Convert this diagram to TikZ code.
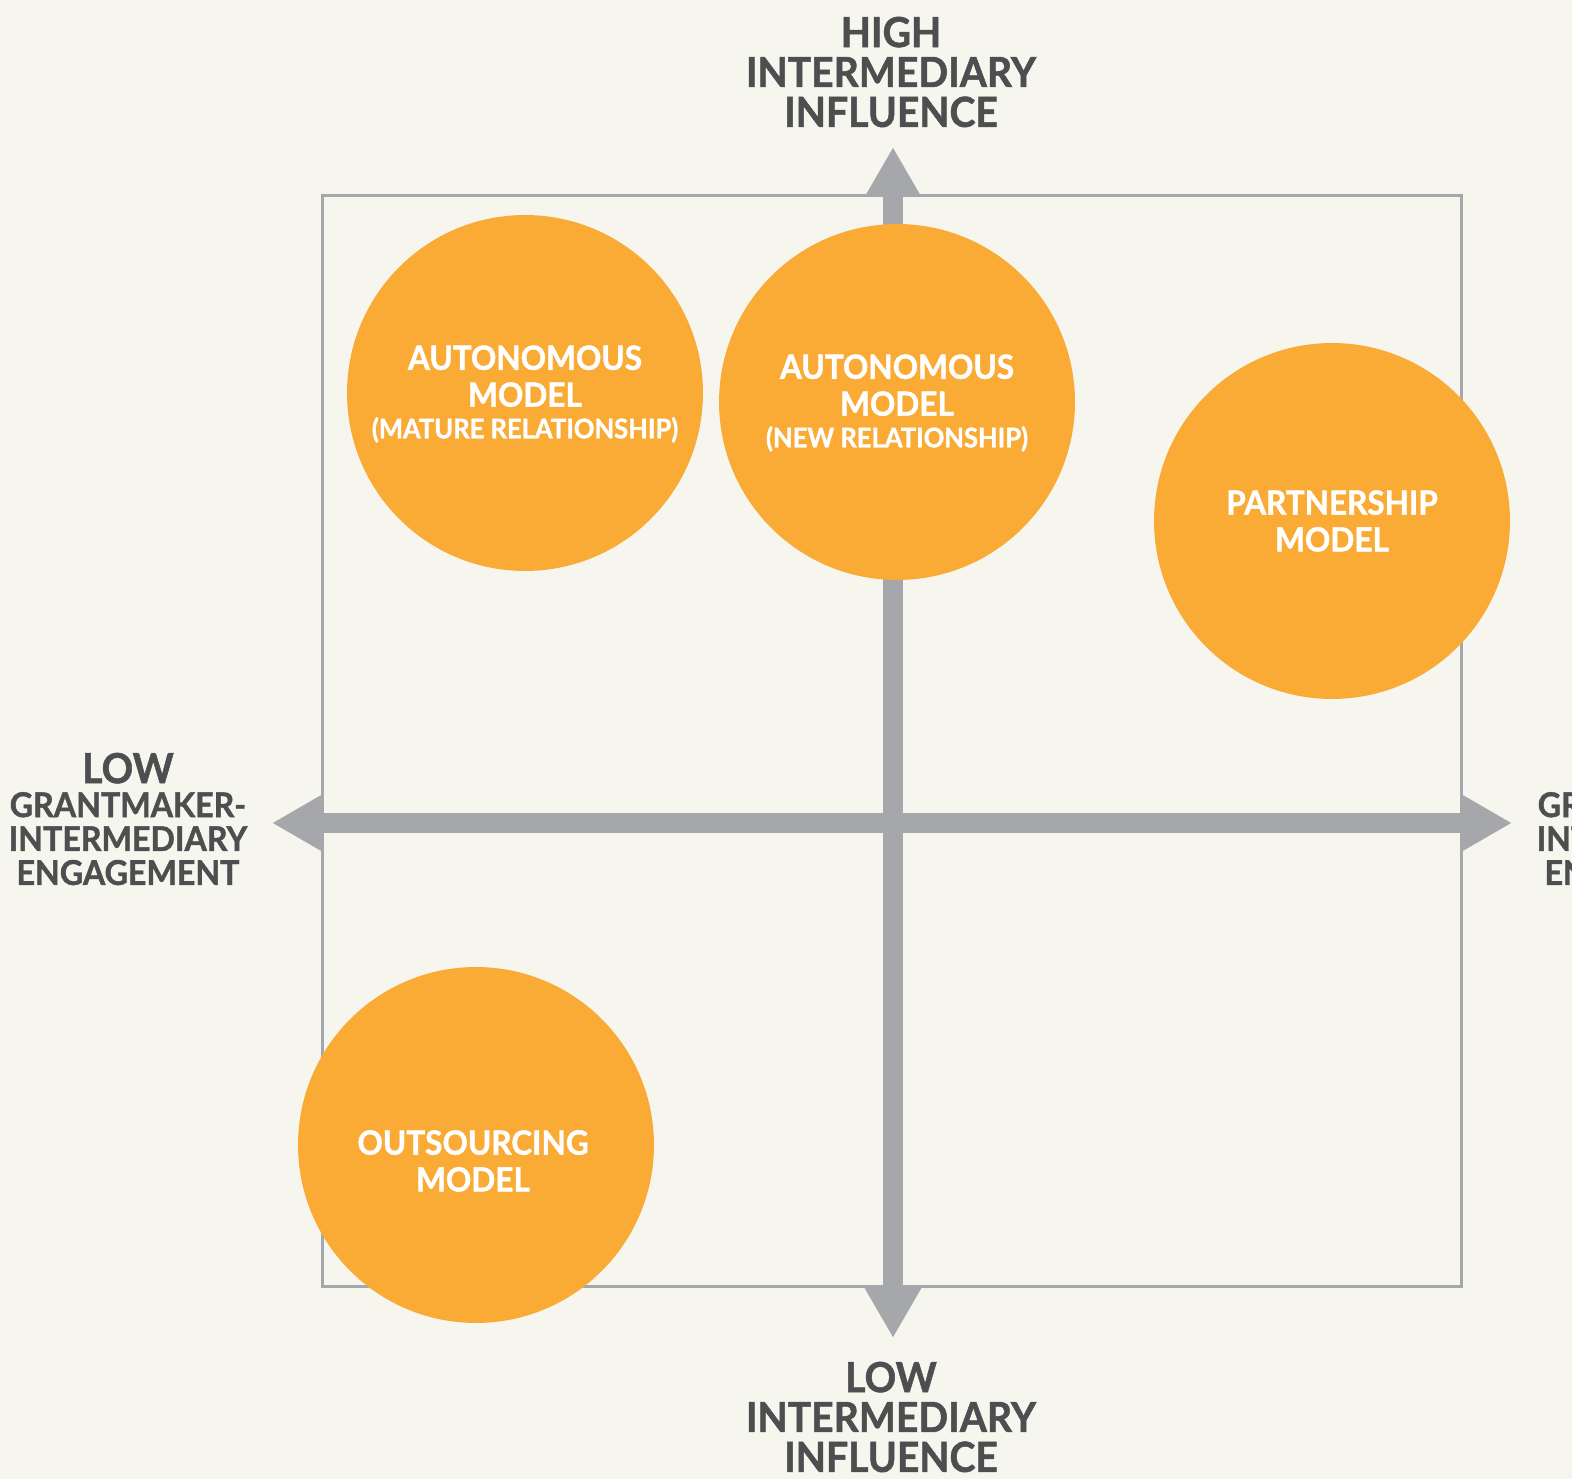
\documentclass[tikz,border=0pt]{standalone}
\usepackage{fontspec}
\setmainfont{Lato}[BoldFeatures={FakeStretch=0.944,FakeBold=1.2}]
\usetikzlibrary{arrows.meta}
\definecolor{bgcream}{HTML}{F6F5EE}
\definecolor{axisgray}{HTML}{A6A7AB}
\definecolor{labelgray}{HTML}{4D4E50}
\definecolor{bubbleorange}{HTML}{FAAB35}
\tikzset{
  bubble/.style={circle, fill=bubbleorange, minimum size=7.12cm, inner sep=0pt},
  bubtext/.style={text=white, font=\bfseries\fontsize{19}{21}\selectfont, align=center, inner sep=0pt},
  axlabel/.style={text=labelgray, font=\bfseries\fontsize{23.6}{22.7}\selectfont, align=center, inner sep=0pt},
  sidelabel/.style={text=labelgray, font=\bfseries\fontsize{19.4}{19.3}\selectfont, align=center, inner sep=0pt},
  axis/.style={axisgray, line width=0.4cm, {Triangle[length=1cm,width=1.06cm]}-{Triangle[length=1cm,width=1.06cm]}},
  frame/.style={draw=axisgray, line width=0.06cm}
}
\newcommand{\subline}[1]{{\fontsize{15.4}{16}\selectfont #1}}
\newcommand{\bigword}[1]{{\fontsize{23.6}{22}\selectfont #1}}
\begin{document}
\begin{tikzpicture}[x=0.02cm,y=-0.02cm]
  \useasboundingbox (0,0) rectangle (1572,1479);
  \fill[bgcream] (0,0) rectangle (1572,1479);
  \clip (0,0) rectangle (1572,1479);

  % quadrant frame and axes
  \draw[frame] (322,196) rectangle (1461,1286);
  \coordinate (west) at (272,823);
  \coordinate (east) at (1512,823);
  \coordinate (north) at (893,147);
  \coordinate (south) at (893,1338);
  \draw[axis] (west) -- (east);
  \draw[axis] (north) -- (south);

  % axis labels
  \node[axlabel] (hiinf) at (891,72) {HIGH\\INTERMEDIARY\\INFLUENCE};
  \node[axlabel] (loinf) at (891,1417) {LOW\\INTERMEDIARY\\INFLUENCE};
  \node[sidelabel] (loeng) at (128,819) {\bigword{LOW}\\GRANTMAKER-\\INTERMEDIARY\\ENGAGEMENT};
  \node[sidelabel] (hieng) at (1656,819) {\bigword{HIGH}\\GRANTMAKER-\\INTERMEDIARY\\ENGAGEMENT};

  % models
  \node[bubble] (mature) at (525,393) {};
  \node[bubble] (newrel) at (897,402) {};
  \node[bubble] (partner) at (1332,521) {};
  \node[bubble] (outsrc) at (476,1145) {};
  \node[bubtext] at (525,394) {AUTONOMOUS\\MODEL\\[-3pt]\subline{(MATURE RELATIONSHIP)}};
  \node[bubtext] at (897,403) {AUTONOMOUS\\MODEL\\[-3pt]\subline{(NEW RELATIONSHIP)}};
  \node[bubtext] at (1332,521) {PARTNERSHIP\\MODEL};
  \node[bubtext] at (473,1161) {OUTSOURCING\\MODEL};
\end{tikzpicture}
\end{document}
